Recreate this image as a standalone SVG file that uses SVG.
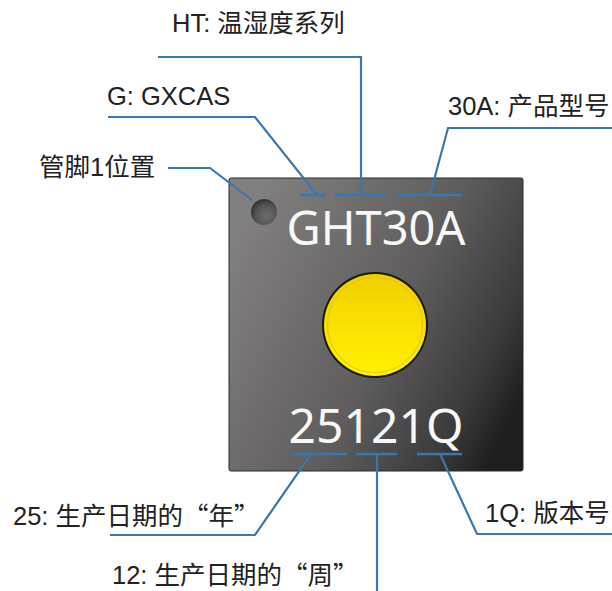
<svg xmlns="http://www.w3.org/2000/svg" width="612" height="591" viewBox="0 0 612 591">
  <defs>
    <linearGradient id="chipFill" x1="0" y1="0.25" x2="1" y2="0.75">
      <stop offset="0" stop-color="#82807f"/>
      <stop offset="0.55" stop-color="#5e5c5c"/>
      <stop offset="0.85" stop-color="#3c3b3b"/>
      <stop offset="1" stop-color="#1e1e1e"/>
    </linearGradient>
    <radialGradient id="pinFill" cx="0.6" cy="0.65" r="0.6">
      <stop offset="0" stop-color="#6d6b6b"/>
      <stop offset="0.7" stop-color="#555353"/>
      <stop offset="1" stop-color="#3a3939"/>
    </radialGradient>
    <linearGradient id="padFill" x1="0" y1="0" x2="0" y2="1">
      <stop offset="0" stop-color="#f0cf00"/>
      <stop offset="0.6" stop-color="#fbe400"/>
      <stop offset="1" stop-color="#fff200"/>
    </linearGradient>
    <style>
      .label { font-family: "Liberation Sans", "Noto Sans CJK SC", sans-serif; font-size: 25.5px; fill: #222; }
      .cjk { font-family: "Noto Sans CJK SC", sans-serif; }
      .mark { font-family: "Noto Sans", "Open Sans", sans-serif; fill: #f7f7f7; }
      .lead { fill: none; stroke: #3b77af; stroke-width: 2.2; stroke-linejoin: miter; }
      .tick { stroke: #3b77af; stroke-width: 2.6; }
    </style>
  </defs>

  <!-- package body -->
  <g id="chip">
    <rect x="229" y="178" width="294" height="293" rx="2" fill="url(#chipFill)" stroke="#2a2a2a" stroke-width="1"/>
    <circle cx="264" cy="212" r="13" fill="url(#pinFill)"/>
    <text class="mark" x="376" y="245" font-size="47" text-anchor="middle">GHT30A</text>
    <circle cx="375" cy="325" r="53" fill="#1a1a10"/>
    <circle cx="375" cy="325" r="51" fill="url(#padFill)"/>
    <circle cx="375" cy="325" r="47.5" fill="none" stroke="#e2c400" stroke-width="1.2" opacity="0.8"/>
    <text class="mark" x="376" y="443" font-size="48" text-anchor="middle">25121Q</text>
  </g>

  <!-- callout leaders -->
  <g id="connectors">
    <line class="tick" x1="300" y1="195" x2="326" y2="195"/>
    <line class="tick" x1="334" y1="195" x2="387" y2="195"/>
    <line class="tick" x1="397" y1="195" x2="462" y2="195"/>
    <line class="tick" x1="292" y1="454" x2="347" y2="454"/>
    <line class="tick" x1="356" y1="454" x2="397" y2="454"/>
    <line class="tick" x1="417" y1="454" x2="462" y2="454"/>

    <polyline class="lead" points="158,57 361,57 361,195"/>
    <polyline class="lead" points="108,117 255,117 317,195"/>
    <polyline class="lead" points="612,128 448,128 430,195"/>
    <polyline class="lead" points="168,168 210,168 252,200"/>
    <polyline class="lead" points="110,535 255,535 311,454"/>
    <polyline class="lead" points="377,454 377,591"/>
    <polyline class="lead" points="612,534 477,534 440,454"/>
  </g>

  <g id="label-ht"><text class="label" x="172" y="32">HT: 温湿度系列</text></g>
  <g id="label-g"><text class="label" x="107" y="105">G: GXCAS</text></g>
  <g id="label-30a"><text class="label" x="448" y="115">30A: 产品型号</text></g>
  <g id="label-pin1"><text class="label" x="39" y="176">管脚1位置</text></g>
  <g id="label-25"><text class="label" x="13" y="525">25: 生产日期的<tspan class="cjk">“年”</tspan></text></g>
  <g id="label-12"><text class="label" x="112" y="584">12: 生产日期的<tspan class="cjk">“周”</tspan></text></g>
  <g id="label-1q"><text class="label" x="485" y="522">1Q: 版本号</text></g>
</svg>
